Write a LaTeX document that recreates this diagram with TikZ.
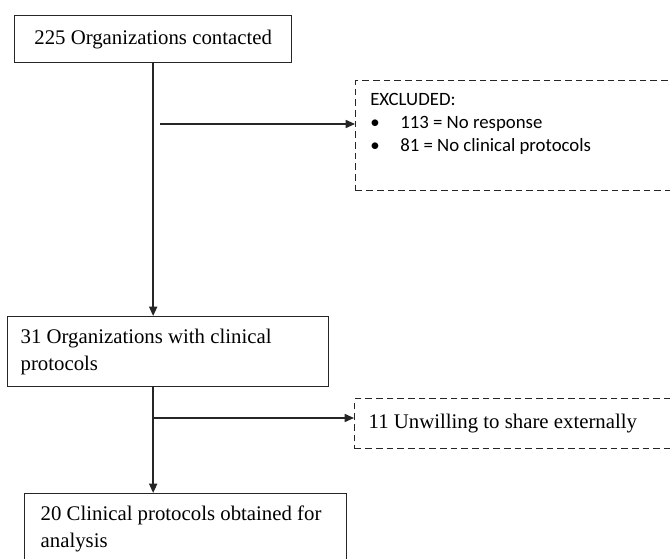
\documentclass[tikz,border=0pt]{standalone}
\usepackage{fontspec}
\setmainfont{Liberation Serif}
\newfontfamily\calibri{Carlito}
\usetikzlibrary{arrows.meta,calc,positioning}
\tikzset{
  box/.style={
    draw=black!85, line width=1pt, fill=white, anchor=north west,
    font=\fontsize{15.6}{20.5}\selectfont, align=flush left, inner ysep=0pt
  },
  stage/.style={box, minimum height=52.5pt},
  dashbox/.style={box, dash pattern=on 5pt off 3pt, minimum width=243.75pt},
  listtext/.style={anchor=north west, inner sep=0pt, align=flush left, font=\calibri\fontsize{14.1}{17.25}\selectfont},
  flow/.style={-{Triangle[length=7pt,width=6pt]}, draw=black!85, line width=1.2pt}
}
\newcommand{\bulletitem}{\hbox to 22.5pt{\textbullet\hfil}}

\begin{document}
\begin{tikzpicture}[x=0.75pt,y=-0.75pt]
  \useasboundingbox[fill=white] (0,0) rectangle (670,559);
  \clip (0,0) rectangle (670,559);

  \node[box, minimum width=207.75pt, minimum height=35.25pt, align=flush center] (contacted) at (14,15) {225 Organizations contacted};
  \node[stage, text width=221.25pt, inner xsep=9.75pt] (withprot) at (7,316) {31 Organizations with clinical\\protocols};
  \node[stage, text width=217.5pt, inner xsep=12pt] (obtained) at (24,493) {20 Clinical protocols obtained for\\analysis};

  \node[dashbox, minimum height=82.5pt] (excluded) at (355,80) {};
  \node[listtext] (exclist) at ($(excluded.north west)+(15,13)$) {EXCLUDED:\\\bulletitem 113 = No response\\\bulletitem 81 = No clinical protocols};
  \node[dashbox, minimum height=37.5pt, text width=222.75pt, inner xsep=10.5pt] (unwilling) at (354,398) {11 Unwilling to share externally};

  \draw[flow] (contacted.south) -- (contacted.south |- withprot.north);
  \coordinate (split1) at (160,124);
  \draw[flow] (split1) -- (split1 -| excluded.west);

  \draw[flow] (contacted.south |- withprot.south) -- (contacted.south |- obtained.north);
  \coordinate (split2) at (153,418);
  \draw[flow] (split2) -- (split2 -| unwilling.west);
\end{tikzpicture}
\end{document}
